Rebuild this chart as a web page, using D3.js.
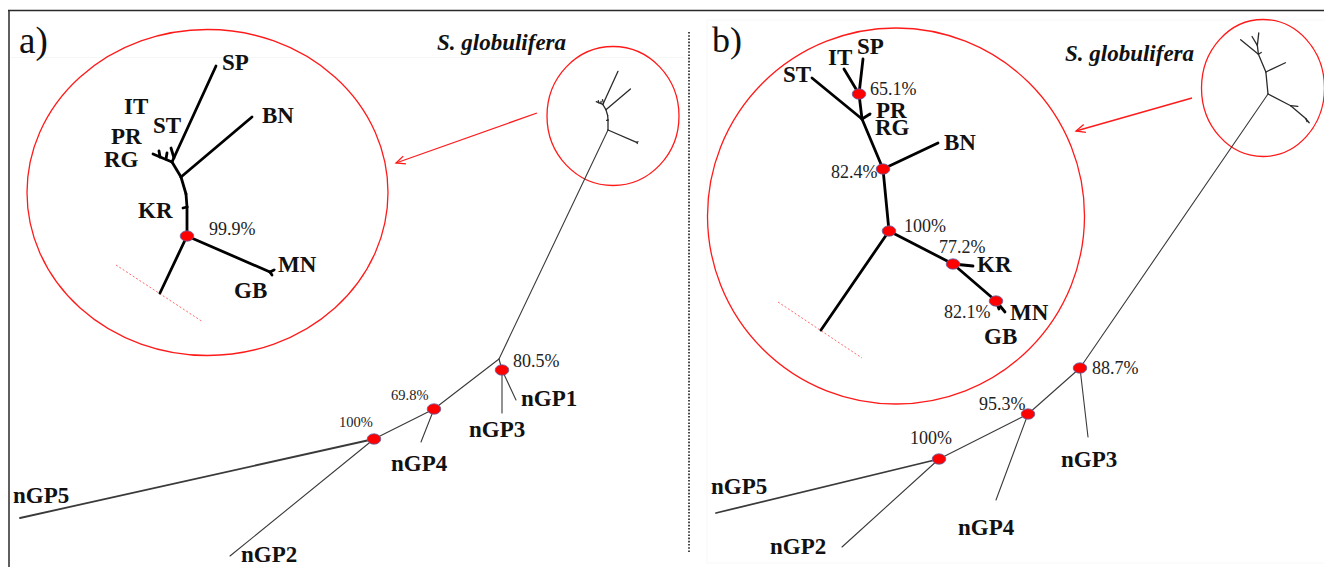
<!DOCTYPE html>
<html>
<head>
<meta charset="utf-8">
<script src="https://cdn.jsdelivr.net/npm/d3@7"></script>
<style>
  body { margin: 0; background: #fff; }
  svg { display: block; }
</style>
</head>
<body>
<svg id="fig" width="1324" height="567"></svg>
<script>
// ---------------------------------------------------------------
// Tree data (branch layout in tree units, relative to each root)
// ---------------------------------------------------------------

// a) S. globulifera cluster, relative to its root node
const clusterANodes = [
  { id: "R", x: 0, y: 0 }, { id: "stem", x: -27, y: 57 },
  { id: "mngb", x: 83, y: 36 }, { id: "MN", x: 87, y: 34 }, { id: "GB", x: 85, y: 39 },
  { id: "kr", x: 0, y: -29 }, { id: "KR", x: -4, y: -28 },
  { id: "k2", x: -1, y: -42 }, { id: "bn", x: -6, y: -59 }, { id: "BN", x: 65, y: -119 },
  { id: "g", x: -15, y: -74 }, { id: "SP", x: 29, y: -170 },
  { id: "st", x: -13, y: -78 }, { id: "ST", x: -16, y: -88 },
  { id: "RG", x: -34, y: -82 }, { id: "pr", x: -27, y: -79 }, { id: "PR", x: -28, y: -85 },
  { id: "it", x: -21, y: -77 }, { id: "IT", x: -20, y: -83 }
];
const clusterAEdges = [
  ["R", "mngb"], ["mngb", "MN"], ["mngb", "GB"],
  ["R", "kr"], ["kr", "KR"], ["kr", "k2"], ["k2", "bn"], ["bn", "BN"],
  ["bn", "g"], ["g", "SP"], ["st", "ST"], ["g", "RG"], ["pr", "PR"], ["it", "IT"]
];
const clusterAStem = ["R", "stem"];
const clusterASupport = [{ node: "R", value: "99.9%" }];
const clusterATips = ["SP", "BN", "IT", "ST", "PR", "RG", "KR", "MN", "GB"];

// a) remaining groups, relative to the cluster root
const backboneANodes = [
  { id: "S", x: 0, y: 0 }, { id: "J", x: -109, y: 229 },
  { id: "n80", x: -106, y: 240 }, { id: "nGP1", x: -92, y: 270 }, { id: "nGP3", x: -106, y: 283 },
  { id: "n69", x: -174, y: 279 }, { id: "nGP4", x: -187, y: 312 },
  { id: "n100", x: -234, y: 309 }, { id: "nGP5", x: -588, y: 388 }, { id: "nGP2", x: -378, y: 426 }
];
const backboneAEdges = [
  ["S", "J"], ["J", "n80"], ["n80", "nGP3"], ["n80", "nGP1"],
  ["J", "n69"], ["n69", "nGP4"], ["n69", "n100"], ["n100", "nGP5"], ["n100", "nGP2"]
];
const backboneASupport = [
  { node: "n100", value: "100%" }, { node: "n69", value: "69.8%" }, { node: "n80", value: "80.5%" }
];
const backboneATips = ["nGP1", "nGP3", "nGP4", "nGP5", "nGP2"];

// b) S. globulifera cluster, relative to its root node
const clusterBNodes = [
  { id: "R", x: 0, y: 0 }, { id: "stem", x: -68, y: 99 },
  { id: "k77", x: 64, y: 33 }, { id: "KR", x: 84, y: 35 },
  { id: "n821", x: 107, y: 70 }, { id: "MN", x: 116, y: 81 }, { id: "GB", x: 110, y: 78 },
  { id: "n824", x: -6, y: -62 }, { id: "BN", x: 49, y: -88 },
  { id: "j2", x: -27, y: -112 }, { id: "PR", x: -19, y: -117 }, { id: "RG", x: -21, y: -114 },
  { id: "ST", x: -77, y: -153 },
  { id: "n651", x: -30, y: -137 }, { id: "SP", x: -26, y: -172 }, { id: "IT", x: -45, y: -162 }
];
const clusterBEdges = [
  ["R", "k77"], ["k77", "KR"], ["k77", "n821"], ["n821", "MN"], ["n821", "GB"],
  ["R", "n824"], ["n824", "BN"], ["n824", "j2"], ["j2", "PR"], ["j2", "ST"],
  ["j2", "n651"], ["n651", "SP"], ["n651", "IT"]
];
const clusterBStem = ["R", "stem"];
const clusterBSupport = [
  { node: "n651", value: "65.1%" }, { node: "n824", value: "82.4%" }, { node: "R", value: "100%" },
  { node: "k77", value: "77.2%" }, { node: "n821", value: "82.1%" }
];
const clusterBTips = ["SP", "IT", "ST", "PR", "RG", "BN", "KR", "MN", "GB"];

// b) remaining groups, relative to the cluster root
const backboneBNodes = [
  { id: "S", x: 0, y: 0 },
  { id: "n887", x: -188, y: 274 }, { id: "nGP3", x: -180, y: 343 },
  { id: "n953", x: -240, y: 320 }, { id: "nGP4", x: -272, y: 406 },
  { id: "n100", x: -329, y: 365 }, { id: "nGP5", x: -552, y: 419 }, { id: "nGP2", x: -426, y: 453 }
];
const backboneBEdges = [
  ["S", "n887"], ["n887", "nGP3"], ["n887", "n953"], ["n953", "nGP4"],
  ["n953", "n100"], ["n100", "nGP5"], ["n100", "nGP2"]
];
const backboneBSupport = [
  { node: "n887", value: "88.7%" }, { node: "n953", value: "95.3%" }, { node: "n100", value: "100%" }
];
const backboneBTips = ["nGP3", "nGP4", "nGP5", "nGP2"];

const panelLetters = ["a)", "b)"];
const outgroupName = "S. globulifera";

// ---------------------------------------------------------------
// Layout
// ---------------------------------------------------------------
const svg = d3.select("#fig");
const SERIF = "'Liberation Serif', 'Times New Roman', serif";
const RED = "#ff1a1a";

// label offsets (px) from the node each label belongs to
const labelOffset = {
  aInset: { SP: [6, 4], BN: [10, 6], IT: [-43, -39], ST: [-18, -15], PR: [-48, -7], RG: [-49, 13],
            KR: [-45, 10], MN: [4, 2], GB: [-38, 23], R: [22, -1] },
  aMain: { nGP1: [5, 6], nGP3: [-33, 24], nGP4: [-30, 29], nGP5: [-7, -15], nGP2: [11, 6],
           n80: [11, -3], n69: [-43, -9], n100: [-35, -12] },
  bInset: { SP: [-6, -5], IT: [-16, -4], ST: [-29, 4], PR: [6, 4], RG: [7, 18], BN: [6, 7],
            KR: [4, 6], MN: [5, 8], GB: [-15, 35],
            n651: [11, 1], n824: [-52, 9], R: [15, 1], k77: [-14, -11], n821: [-52, 17] },
  bMain: { nGP3: [-27, 30], nGP4: [-38, 35], nGP5: [-5, -19], nGP2: [-72, 7],
           n887: [12, 6], n953: [-49, -4], n100: [-29, -15] }
};

// position scales: tree units -> page pixels
function unitScales(ox, oy, k) {
  return {
    x: d3.scaleLinear().domain([0, 1]).range([ox, ox + k]),
    y: d3.scaleLinear().domain([0, 1]).range([oy, oy + k])
  };
}

function drawEdges(g, nodes, edges, sc, style) {
  const byId = new Map(nodes.map(d => [d.id, d]));
  g.selectAll(null).data(edges).join("line")
    .attr("x1", e => sc.x(byId.get(e[0]).x)).attr("y1", e => sc.y(byId.get(e[0]).y))
    .attr("x2", e => sc.x(byId.get(e[1]).x)).attr("y2", e => sc.y(byId.get(e[1]).y))
    .attr("stroke", style.color)
    .attr("stroke-width", e => (style.widths && style.widths[e[1]]) || style.width)
    .attr("stroke-linecap", "round");
  return byId;
}

function drawDots(g, byId, support, sc) {
  g.selectAll(null).data(support).join("ellipse")
    .attr("cx", d => sc.x(byId.get(d.node).x))
    .attr("cy", d => sc.y(byId.get(d.node).y))
    .attr("rx", 6.8).attr("ry", 5.2)
    .attr("fill", "#ff0000").attr("stroke", "#5a66a8").attr("stroke-width", 0.8);
}

function drawSupportText(g, byId, support, sc, offs, size) {
  g.selectAll(null).data(support).join("text")
    .attr("x", d => sc.x(byId.get(d.node).x) + offs[d.node][0])
    .attr("y", d => sc.y(byId.get(d.node).y) + offs[d.node][1])
    .attr("font-family", SERIF)
    .attr("font-size", d => (typeof size === "function" ? size(d) : size))
    .attr("fill", "#222")
    .text(d => d.value);
}

function drawTipText(g, byId, tips, sc, offs) {
  g.selectAll(null).data(tips).join("text")
    .attr("x", d => sc.x(byId.get(d).x) + offs[d][0])
    .attr("y", d => sc.y(byId.get(d).y) + offs[d][1])
    .attr("font-family", SERIF).attr("font-weight", "bold")
    .attr("font-size", 23).attr("fill", "#111")
    .text(d => d);
}

function arrow(g, x1, y1, x2, y2) {
  g.append("line").attr("x1", x1).attr("y1", y1).attr("x2", x2).attr("y2", y2)
    .attr("stroke", RED).attr("stroke-width", 1.3);
  const a = Math.atan2(y1 - y2, x1 - x2), L = 10, s = 0.42;
  const p = d3.path();
  p.moveTo(x2 + L * Math.cos(a + s), y2 + L * Math.sin(a + s));
  p.lineTo(x2, y2);
  p.lineTo(x2 + L * Math.cos(a - s), y2 + L * Math.sin(a - s));
  g.append("path").attr("d", p.toString()).attr("fill", "none")
    .attr("stroke", RED).attr("stroke-width", 1.3);
}

function dashedCut(g, sc, ax, ay, bx, by) {
  g.append("line")
    .attr("x1", sc.x(ax)).attr("y1", sc.y(ay)).attr("x2", sc.x(bx)).attr("y2", sc.y(by))
    .attr("stroke", "#ff6a6a").attr("stroke-width", 1).attr("stroke-dasharray", "2,2");
}

// ---------------------------------------------------------------
// Frame
// ---------------------------------------------------------------
svg.append("rect").attr("x", 707).attr("y", 20).attr("width", 630).attr("height", 543)
  .attr("fill", "none").attr("stroke", "#f7f7f7");
svg.append("line").attr("x1", 10).attr("y1", 57.5).attr("x2", 684).attr("y2", 57.5)
  .attr("stroke", "#f6f6f6");
svg.append("line").attr("x1", 8).attr("y1", 10.5).attr("x2", 1324).attr("y2", 10.5)
  .attr("stroke", "#2a2a2a").attr("stroke-width", 1.5);
svg.append("line").attr("x1", 9).attr("y1", 10).attr("x2", 9).attr("y2", 567)
  .attr("stroke", "#2a2a2a").attr("stroke-width", 1.5);
svg.append("line").attr("x1", 689).attr("y1", 32).attr("x2", 689).attr("y2", 552)
  .attr("stroke", "#333").attr("stroke-width", 1.8).attr("stroke-dasharray", "1.6,1.6");

// ---------------------------------------------------------------
// Panel a
// ---------------------------------------------------------------
const gA = svg.append("g");
gA.append("text").attr("x", 19).attr("y", 53).attr("font-family", SERIF)
  .attr("font-size", 37).attr("fill", "#111").text(panelLetters[0]);
gA.append("text").attr("x", 437).attr("y", 50).attr("font-family", SERIF)
  .attr("font-size", 23).attr("font-weight", "bold").attr("font-style", "italic")
  .attr("fill", "#111").text(outgroupName);

gA.append("ellipse").attr("cx", 207.5).attr("cy", 192.5).attr("rx", 180.5).attr("ry", 163)
  .attr("fill", "none").attr("stroke", RED).attr("stroke-width", 1.3);
gA.append("ellipse").attr("cx", 613).attr("cy", 116).attr("rx", 66).attr("ry", 69.5)
  .attr("fill", "none").attr("stroke", RED).attr("stroke-width", 1.3);
arrow(gA, 537, 113, 396, 163);

// main tree (a)
const scAMain = unitScales(608, 130, 1);
const idAMain = drawEdges(gA, backboneANodes, backboneAEdges, scAMain,
  { color: "#3a3a3a", width: 1.1, widths: { nGP5: 1.8 } });
// small copy of the cluster at the top of the backbone
const scASmall = unitScales(608, 130, 0.345);
drawEdges(gA, clusterANodes, clusterAEdges, scASmall, { color: "#2a2a2a", width: 1.3 });
drawDots(gA, idAMain, backboneASupport, scAMain);
drawSupportText(gA, idAMain, backboneASupport, scAMain, labelOffset.aMain,
  d => (d.value === "80.5%" ? 18 : 14.5));
drawTipText(gA, idAMain, backboneATips, scAMain, labelOffset.aMain);

// enlarged cluster (a)
const scAInset = unitScales(187, 236, 1);
dashedCut(gA, scAInset, -71, 29, 16, 86);
const idAInset = drawEdges(gA, clusterANodes, clusterAEdges.concat([clusterAStem]), scAInset,
  { color: "#000", width: 2.8 });
drawDots(gA, idAInset, clusterASupport, scAInset);
drawSupportText(gA, idAInset, clusterASupport, scAInset, labelOffset.aInset, 18);
drawTipText(gA, idAInset, clusterATips, scAInset, labelOffset.aInset);

// ---------------------------------------------------------------
// Panel b
// ---------------------------------------------------------------
const gB = svg.append("g");
gB.append("text").attr("x", 712).attr("y", 52).attr("font-family", SERIF)
  .attr("font-size", 36).attr("fill", "#111").text(panelLetters[1]);
gB.append("text").attr("x", 1065).attr("y", 61).attr("font-family", SERIF)
  .attr("font-size", 23).attr("font-weight", "bold").attr("font-style", "italic")
  .attr("fill", "#111").text(outgroupName);

gB.append("ellipse").attr("cx", 896).attr("cy", 216).attr("rx", 188.5).attr("ry", 188)
  .attr("fill", "none").attr("stroke", RED).attr("stroke-width", 1.3);
gB.append("ellipse").attr("cx", 1263).attr("cy", 88).attr("rx", 61.5).attr("ry", 68.5)
  .attr("fill", "none").attr("stroke", RED).attr("stroke-width", 1.3);
arrow(gB, 1192, 98, 1076, 131);

// main tree (b)
const scBMain = unitScales(1268, 94, 1);
const idBMain = drawEdges(gB, backboneBNodes, backboneBEdges, scBMain,
  { color: "#3a3a3a", width: 1.1, widths: { nGP5: 1.8 } });
const scBSmall = unitScales(1268, 94, 0.355);
drawEdges(gB, clusterBNodes, clusterBEdges, scBSmall, { color: "#2a2a2a", width: 1.3 });
drawDots(gB, idBMain, backboneBSupport, scBMain);
drawSupportText(gB, idBMain, backboneBSupport, scBMain, labelOffset.bMain, 18);
drawTipText(gB, idBMain, backboneBTips, scBMain, labelOffset.bMain);

// enlarged cluster (b)
const scBInset = unitScales(889, 231, 1);
dashedCut(gB, scBInset, -111, 71, -27, 127);
const idBInset = drawEdges(gB, clusterBNodes, clusterBEdges.concat([clusterBStem]), scBInset,
  { color: "#000", width: 2.8 });
drawDots(gB, idBInset, clusterBSupport, scBInset);
drawSupportText(gB, idBInset, clusterBSupport, scBInset, labelOffset.bInset, 18);
drawTipText(gB, idBInset, clusterBTips, scBInset, labelOffset.bInset);
</script>
</body>
</html>
